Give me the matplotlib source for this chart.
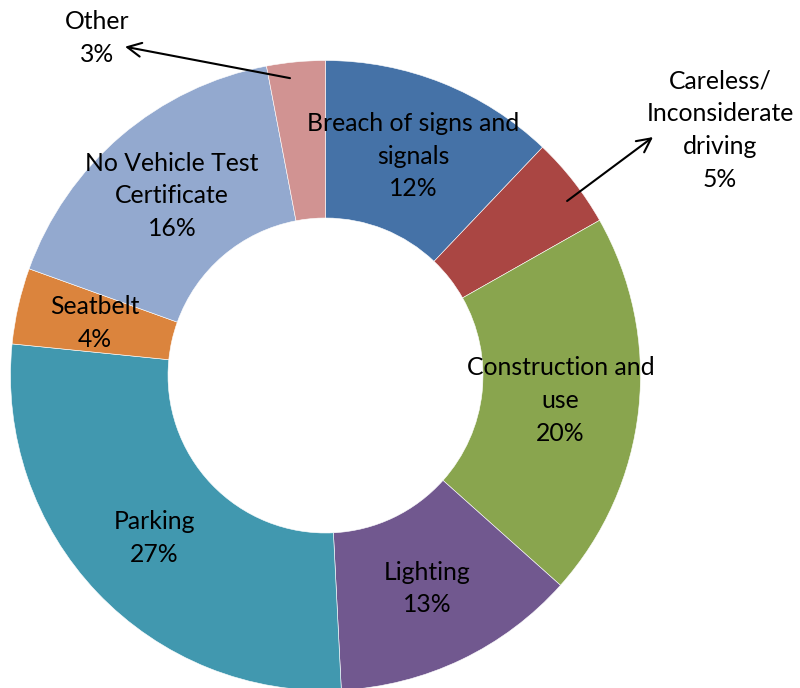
import numpy as np
import matplotlib
matplotlib.use('Agg')
import matplotlib.pyplot as plt

# slice data, clockwise from 12 o'clock
categories = ['Breach of signs and\nsignals', 'Careless/\nInconsiderate\ndriving',
              'Construction and\nuse', 'Lighting', 'Parking', 'Seatbelt',
              'No Vehicle Test\nCertificate', 'Other']
values = [12.1, 4.7, 19.8, 12.6, 27.4, 3.9, 16.5, 3.0]
colors = ['#4572A7', '#AA4643', '#89A54E', '#71588F', '#4198AF', '#DB843D',
          '#93A9CF', '#D19392']
# slices whose label sits outside with an arrow:
# index -> (label position, arrow start, arrow tip)
outside = {1: ((1.2524, 0.7794), (0.767, 0.554), (1.0397, 0.757)),
           7: ((-0.7238, 1.0714), (-0.1127, 0.944), (-0.6365, 1.0438))}

plt.rcParams['font.family'] = ['Lato', 'DejaVu Sans']
FS = 17.8
LS = 1.51

fig = plt.figure(figsize=(8, 6.88), dpi=100)
ax = fig.add_axes([0, 0, 1, 1])

wedges, _ = ax.pie(values, colors=colors, startangle=90, counterclock=False,
                   radius=1.0, wedgeprops=dict(width=0.5, edgecolor='white', linewidth=0.4))

total = sum(values)
for i, w in enumerate(wedges):
    mid = np.deg2rad((w.theta1 + w.theta2) / 2)
    label = '%s\n%d%%' % (categories[i], round(values[i] / total * 100))
    if i in outside:
        (tx, ty), start, tip = outside[i]
        ax.text(tx, ty, label, ha='center', va='center', fontsize=FS,
                linespacing=LS)
        # arrow from inside the slice out to its label
        ax.annotate('', xy=tip, xytext=start,
                    arrowprops=dict(arrowstyle='->', color='black', lw=1.5,
                                    mutation_scale=25, shrinkA=0, shrinkB=0))
    else:
        ax.text(0.75 * np.cos(mid), 0.75 * np.sin(mid), label, ha='center',
                va='center', fontsize=FS, linespacing=LS)

ax.set_xlim(-325.5 / 315, (800 - 325.5) / 315)
ax.set_ylim((375.5 - 688) / 315, 375.5 / 315)
ax.set_aspect('auto')
ax.axis('off')

fig.savefig('out.png', dpi=100, facecolor='white')
